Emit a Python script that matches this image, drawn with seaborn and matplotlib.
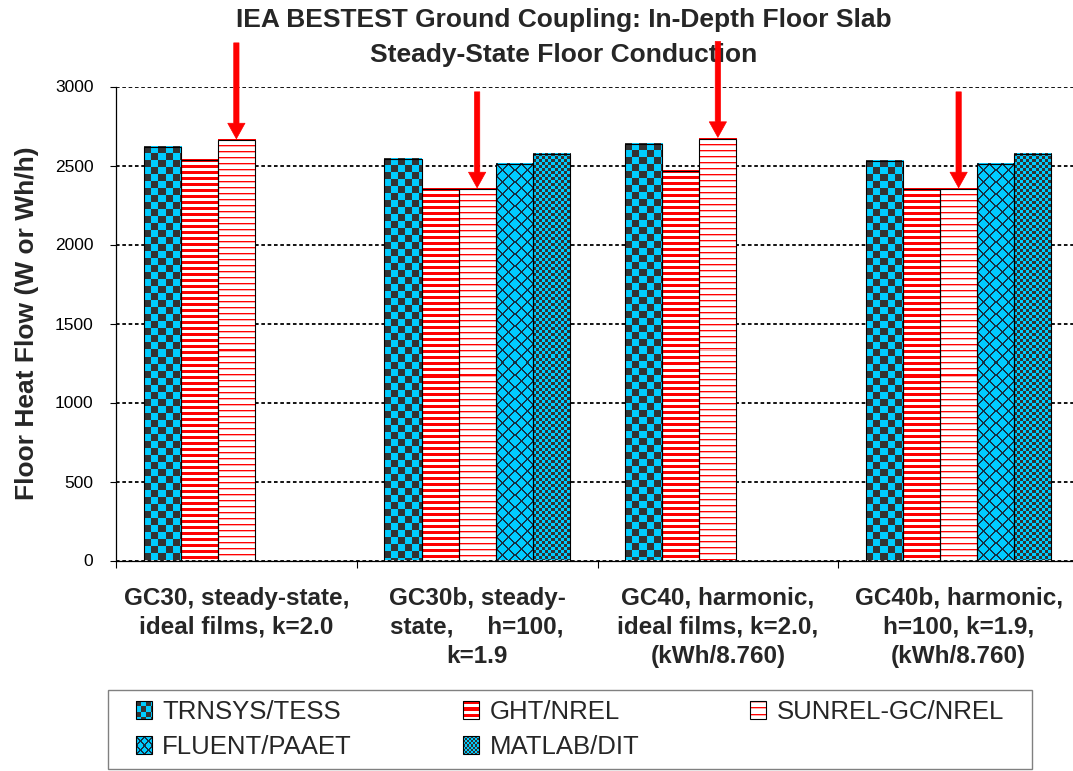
import numpy as np
import pandas as pd
import matplotlib
matplotlib.use('Agg')
import matplotlib.pyplot as plt
import seaborn as sns
from matplotlib.patches import Rectangle
from matplotlib.image import BboxImage
from matplotlib.transforms import Bbox, TransformedBbox
from matplotlib.legend_handler import HandlerBase

# categories (x) and programs (hue)
cases = ['GC30, steady-state,\nideal films, k=2.0',
         'GC30b, steady-\nstate,     h=100,\nk=1.9',
         'GC40, harmonic,\nideal films, k=2.0,\n(kWh/8.760)',
         'GC40b, harmonic,\nh=100, k=1.9,\n(kWh/8.760)']
programs = ['TRNSYS/TESS', 'GHT/NREL', 'SUNREL-GC/NREL', 'FLUENT/PAAET', 'MATLAB/DIT']

# floor heat flow, W (None = not run)
trnsys = [2620, 2541, 2634, 2527]
ght = [2533, 2351, 2466, 2351]
sunrel = [2661, 2351, 2670, 2351]
fluent = [None, 2511, None, 2512]
matlab = [None, 2574, None, 2574]

yticks = [0, 500, 1000, 1500, 2000, 2500, 3000]
title = 'IEA BESTEST Ground Coupling: In-Depth Floor Slab\nSteady-State Floor Conduction'
ylabel = 'Floor Heat Flow (W or Wh/h)'
arrow_program = 'SUNREL-GC/NREL'

rows = []
for prog, vals in zip(programs, [trnsys, ght, sunrel, fluent, matlab]):
    for case, v in zip(cases, vals):
        if v is not None:
            rows.append({'case': case, 'program': prog, 'flow': v})
df = pd.DataFrame(rows)

# fill patterns (Excel-like)
CYAN = (0, 204, 255)
DARK = (51, 51, 51)
RED = (255, 0, 0)
PINK = (255, 170, 170)
WHITE = (255, 255, 255)
NAVY = (20, 50, 70)
kinds = {'TRNSYS/TESS': 'check', 'GHT/NREL': 'thick', 'SUNREL-GC/NREL': 'thin',
         'FLUENT/PAAET': 'diamond', 'MATLAB/DIT': 'fine'}


def fill_pattern(kind, ny, nx, s=1.0):
    i, j = np.mgrid[0:ny, 0:nx]
    out = np.empty((ny, nx, 3), dtype=np.uint8)
    if kind == 'check':
        c = max(1, int(round(7 * s)))
        out[:] = CYAN
        out[((i // c + j // c) % 2) == 0] = DARK
    elif kind == 'thick':
        out[:] = WHITE
        out[(i % 6) < 3] = RED
    elif kind == 'thin':
        out[:] = WHITE
        out[(i % 6) == 0] = RED
        out[(i % 6) == 1] = PINK
    elif kind == 'diamond':
        p = max(5, int(round(12 * s)))
        out[:] = CYAN
        out[((i + j) % p < 2) | ((i - j) % p < 2)] = NAVY
    else:
        c = max(1, int(round(3 * s)))
        out[:] = CYAN
        out[((i // c + j // c) % 2) == 0] = DARK
    return out


class PatternHandler(HandlerBase):
    def __init__(self, kind):
        super().__init__()
        self.kind = kind

    def create_artists(self, legend, orig_handle, xdescent, ydescent,
                       width, height, fontsize, trans):
        bb = TransformedBbox(Bbox.from_bounds(-xdescent, -ydescent, width, height), trans)
        img = BboxImage(bb, interpolation='nearest')
        img.set_data(fill_pattern(self.kind, 17, 16, s=0.7))
        rect = Rectangle((-xdescent, -ydescent), width, height, facecolor='none',
                         edgecolor='black', lw=0.8, transform=trans)
        return [img, rect]


sns.set_theme(style='white')
plt.rcParams['font.family'] = ['Liberation Sans', 'DejaVu Sans']

fig = plt.figure(figsize=(10.73, 7.71), dpi=100)
ax = fig.add_axes([116 / 1073, 1 - 560.5 / 771, 963 / 1073, 474 / 771])

sns.barplot(data=df, x='case', y='flow', hue='program', order=cases, hue_order=programs,
            width=0.77, errorbar=None, legend=False, ax=ax,
            edgecolor='black', linewidth=0.8)
ax.set_xlim(-0.5, 3.5)
ax.set_ylim(0, 3000)

bar_w = 0.77 / len(programs)
bars = [p for p in ax.patches if isinstance(p, Rectangle)]
for p in bars:
    if p.get_height() <= 0 or np.isnan(p.get_height()):
        continue
    xc = p.get_x() + p.get_width() / 2
    k = int(round((xc - round(xc)) / bar_w)) + 2
    prog = programs[k]
    x0, x1 = p.get_x(), p.get_x() + p.get_width()
    y0, y1 = p.get_y(), p.get_y() + p.get_height()
    (px0, py0), (px1, py1) = ax.transData.transform([(x0, y0), (x1, y1)])
    nx = max(1, int(round(px1)) - int(round(px0)))
    ny = max(1, int(round(py1)) - int(round(py0)))
    ax.imshow(fill_pattern(kinds[prog], ny, nx), extent=(x0, x1, y0, y1),
              aspect='auto', interpolation='nearest', zorder=2)
    p.set_facecolor('none')
    p.set_zorder(3)
    if prog == arrow_program:
        ax.annotate('', xy=(xc, y1 + 8), xytext=(xc, y1 + 615),
                    arrowprops=dict(arrowstyle='simple,head_length=0.56,head_width=0.62,tail_width=0.19',
                                    mutation_scale=20, fc='red', ec='red', lw=0.5,
                                    shrinkA=0, shrinkB=0),
                    annotation_clip=False, zorder=6)

ax.set_xlim(-0.5, 3.5)
ax.set_ylim(0, 3000)

# axes styling
for side in ['top', 'right']:
    ax.spines[side].set_visible(False)
for side in ['left', 'bottom']:
    ax.spines[side].set_color('black')
    ax.spines[side].set_linewidth(0.9)
ax.set_axisbelow(True)
ax.yaxis.grid(True, color='black', linestyle=(0, (2, 1.5)), linewidth=1.3)
ax.xaxis.grid(False)

ax.set_yticks(yticks)
ax.tick_params(axis='y', which='major', direction='out', length=4.3, width=0.8,
               pad=12, labelsize=12.5, left=True, colors='black')
ax.set_xticks([-0.5, 0.5, 1.5, 2.5, 3.5])
ax.tick_params(axis='x', which='major', direction='out', length=5, width=0.8,
               bottom=True, labelbottom=False, colors='black')
ax.set_xticks(range(len(cases)), minor=True)
ax.set_xticklabels(cases, minor=True, fontsize=17.5, fontweight='bold', linespacing=1.33)
ax.tick_params(axis='x', which='minor', length=0, pad=19)

ax.set_xlabel('')
ax.set_ylabel(ylabel, fontsize=19, fontweight='bold')
ax.yaxis.set_label_coords(-0.08, 0.5)

fig.text(564 / 1073, 1 - 8 / 771, title, ha='center', va='top', fontsize=19,
         fontweight='bold', linespacing=1.6, zorder=-1)

# legend
proxies = [Rectangle((0, 0), 1, 1) for _ in programs]
hmap = {h: PatternHandler(kinds[prog]) for h, prog in zip(proxies, programs)}
order = [0, 3, 1, 4, 2]
fig.legend([proxies[i] for i in order], [programs[i] for i in order], handler_map=hmap,
           loc='center', bbox_to_anchor=(136 / 1073, 2 / 771, 868 / 1073, 79 / 771),
           bbox_transform=fig.transFigure, mode='expand', ncol=3, frameon=False,
           fontsize=18.5, handlelength=0.62, handleheight=0.66, handletextpad=0.4,
           labelspacing=0.42, borderpad=0, borderaxespad=0)
fig.add_artist(Rectangle((108 / 1073, 2 / 771), 924 / 1073, 79 / 771, transform=fig.transFigure,
                         fill=False, edgecolor='#808080', lw=1))

fig.savefig('out.png', dpi=100)
